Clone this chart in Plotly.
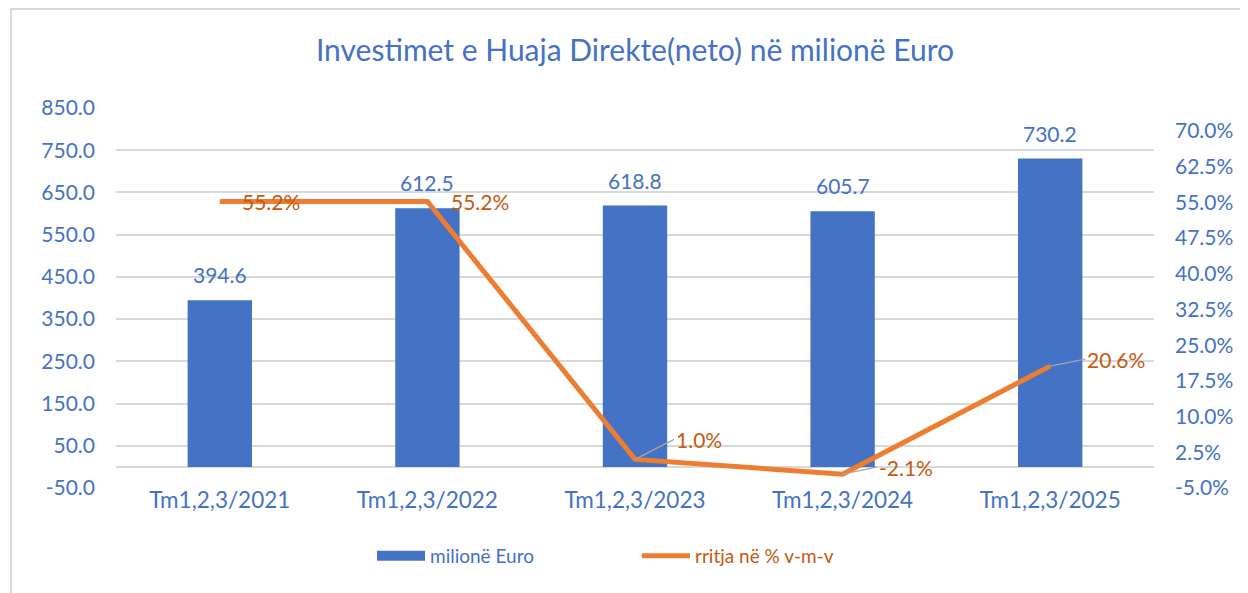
import plotly.graph_objects as go

categories = ["Tm1,2,3/2021", "Tm1,2,3/2022", "Tm1,2,3/2023", "Tm1,2,3/2024", "Tm1,2,3/2025"]
euro_values = [394.6, 612.5, 618.8, 605.7, 730.2]
growth_values = [55.2, 55.2, 1.0, -2.1, 20.6]
left_ticks = [-50, 50, 150, 250, 350, 450, 550, 650, 750, 850]
right_ticks = [-5.0, 2.5, 10.0, 17.5, 25.0, 32.5, 40.0, 47.5, 55.0, 62.5, 70.0]

BLUE = "#4472C4"
ORANGE = "#ED7D31"
ORANGE_TXT = "#C55A11"
GRID = "#D9D9D9"
FONT = "Lato"

OFF = 8  # page body margin
W, H = 1240, 585
ML, MR, MT, MB = 108, 94, 100, 105
PW, PH = W - ML - MR, H - MT - MB

def px_x(p):
    return (p - OFF - ML) / PW

def px_y(p):
    return (H - MB - (p - OFF)) / PH

fig = go.Figure()
fig.add_trace(go.Bar(
    x=categories, y=euro_values, name="milionë Euro", showlegend=False,
    marker=dict(color=BLUE, line=dict(width=0)), width=0.31,
))
# legend entry for bars (wide rectangle swatch)
fig.add_trace(go.Scatter(
    x=[None], y=[None], mode="lines", name="milionë Euro",
    line=dict(color=BLUE, width=13),
))
fig.add_trace(go.Scatter(
    x=categories, y=growth_values, yaxis="y2", mode="lines",
    name="<span style='color:" + ORANGE_TXT + "'>rritja në % v-m-v</span>",
    line=dict(color=ORANGE, width=5),
))

annotations = []
for c, v in zip(categories, euro_values):
    annotations.append(dict(x=c, y=v, xref="x", yref="y", text=f"{v:.1f}",
                            showarrow=False, yanchor="bottom", yshift=11,
                            font=dict(family=FONT, size=21, color=BLUE)))

# growth labels: (dx, dy, leader)
label_pos = [(20, 0, False), (22, 0, False), (39, -20, True), (34, -7, True), (35, -7, True)]
for c, v, (dx, dy, lead) in zip(categories, growth_values, label_pos):
    if lead:
        annotations.append(dict(x=c, y=v, xref="x", yref="y2", text=f"{v:.1f}%",
                                showarrow=True, ax=dx, ay=dy, xanchor="left",
                                arrowhead=0, arrowwidth=1.3, arrowcolor="#A6A6A6",
                                font=dict(family=FONT, size=21, color=ORANGE_TXT)))
    else:
        annotations.append(dict(x=c, y=v, xref="x", yref="y2", text=f"{v:.1f}%",
                                showarrow=False, xanchor="left", xshift=dx,
                                font=dict(family=FONT, size=21, color=ORANGE_TXT)))

shapes = [
    dict(type="line", xref="paper", yref="paper", x0=px_x(11), x1=px_x(11),
         y0=px_y(8), y1=px_y(600), line=dict(color=GRID, width=2)),
    dict(type="line", xref="paper", yref="paper", x0=px_x(10), x1=px_x(1260),
         y0=px_y(9), y1=px_y(9), line=dict(color=GRID, width=2)),
]

fig.update_layout(
    width=W, height=H,
    margin=dict(l=ML, r=MR, t=MT, b=MB, autoexpand=False),
    paper_bgcolor="white", plot_bgcolor="white",
    font=dict(family=FONT, size=21, color=BLUE),
    title=dict(text="Investimet e Huaja Direkte(neto) në milionë Euro",
               x=(635 - OFF) / W, xanchor="center", y=1 - (50 - OFF) / H, yanchor="middle",
               font=dict(family=FONT, size=30, color=BLUE)),
    xaxis=dict(showgrid=False, showline=False, ticks="", ticklabelstandoff=-4,
               tickfont=dict(size=22.5, color=BLUE)),
    yaxis=dict(range=[-50, 850], tickvals=left_ticks, ticktext=[f"{t:.1f}" for t in left_ticks],
               showgrid=True, gridcolor=GRID, gridwidth=1.5, zeroline=True,
               zerolinecolor=GRID, zerolinewidth=1.5, ticks="", ticklabelstandoff=20,
               tickfont=dict(size=21, color=BLUE)),
    yaxis2=dict(range=[-5, 74.83], overlaying="y", side="right", tickvals=right_ticks,
                ticktext=[f"{t:.1f}%" for t in right_ticks], showgrid=False,
                zeroline=False, ticks="", ticklabelstandoff=20,
                tickfont=dict(size=21, color=BLUE)),
    legend=dict(orientation="h", x=px_x(372), xanchor="left", y=px_y(556), yanchor="middle",
                itemwidth=48, entrywidth=202, font=dict(size=19, color=BLUE),
                bgcolor="rgba(0,0,0,0)"),
    annotations=annotations, shapes=shapes, bargap=0.69,
)

fig.write_html("out.html")
